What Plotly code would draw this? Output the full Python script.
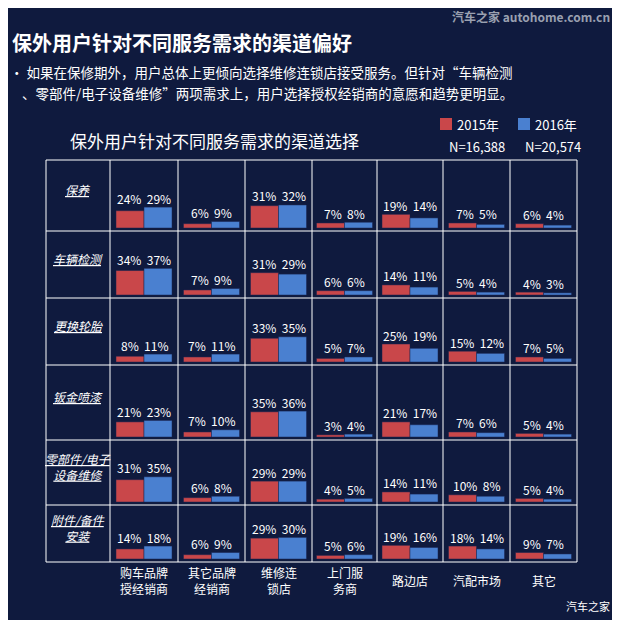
import plotly.graph_objects as go

rows = ["保养", "车辆检测", "更换轮胎", "钣金喷漆", "零部件/电子<br>设备维修", "附件/备件<br>安装"]
cols = ["购车品牌<br>授经销商", "其它品牌<br>经销商", "维修连<br>锁店", "上门服<br>务商", "路边店", "汽配市场", "其它"]
v2015 = [[24, 6, 31, 7, 19, 7, 6],
         [34, 7, 31, 6, 14, 5, 4],
         [8, 7, 33, 5, 25, 15, 7],
         [21, 7, 35, 3, 21, 7, 5],
         [31, 6, 29, 4, 14, 10, 5],
         [14, 6, 29, 5, 19, 18, 9]]
v2016 = [[29, 9, 32, 8, 14, 5, 4],
         [37, 9, 29, 6, 11, 4, 3],
         [11, 11, 35, 7, 19, 12, 5],
         [23, 10, 36, 4, 17, 6, 4],
         [35, 8, 29, 5, 11, 8, 4],
         [18, 9, 30, 6, 16, 14, 7]]

RED, BLUE = "#c9474a", "#4a80d0"
ybounds = [160, 231, 298, 365, 440, 505, 562]
xbounds = [46, 110, 178, 245, 312, 377, 443, 510, 577]
K = 0.72

fig = go.Figure()
ann = []
for series, color, side in [(v2015, RED, -1), (v2016, BLUE, 1)]:
    xs, bases, hs = [], [], []
    for r in range(len(rows)):
        bottom = ybounds[r + 1] - 3
        for c in range(len(cols)):
            cx = (xbounds[c + 1] + xbounds[c + 2]) / 2
            xs.append(cx + side * 14)
            bases.append(bottom)
            hs.append(-series[r][c] * K)
    fig.add_trace(go.Bar(x=xs, y=hs, base=bases, width=28, marker=dict(color=color, line=dict(color="#1a2450", width=0.5)), showlegend=False, hoverinfo="skip"))

for r in range(len(rows)):
    bottom = ybounds[r + 1] - 3
    for c in range(len(cols)):
        cx = (xbounds[c + 1] + xbounds[c + 2]) / 2
        top = bottom - max(v2015[r][c], v2016[r][c]) * K
        ann.append(dict(x=cx, y=top - 9, text=f"{v2015[r][c]}%  {v2016[r][c]}%", showarrow=False, font=dict(size=12, color="white")))
    ann.append(dict(x=(xbounds[0] + xbounds[1]) / 2, y=(ybounds[r] + ybounds[r + 1]) / 2 - 6,
                    text=f"<i><u>{rows[r]}</u></i>", showarrow=False, font=dict(size=12, color="white")))
for c in range(len(cols)):
    cx = (xbounds[c + 1] + xbounds[c + 2]) / 2
    ann.append(dict(x=cx, y=580, text=cols[c], showarrow=False, font=dict(size=12, color="white")))

shapes = []
for y in ybounds:
    shapes.append(dict(type="line", x0=xbounds[0], x1=xbounds[-1], y0=y, y1=y, line=dict(color="white", width=1)))
for x in xbounds:
    shapes.append(dict(type="line", x0=x, x1=x, y0=ybounds[0], y1=ybounds[-1], line=dict(color="white", width=1)))
shapes.append(dict(type="rect", x0=440, x1=452, y0=118, y1=130, fillcolor=RED, line=dict(width=0)))
shapes.append(dict(type="rect", x0=518, x1=530, y0=118, y1=130, fillcolor=BLUE, line=dict(width=0)))

def T(x, y, t, size, color="white", anchor="left"):
    ann.append(dict(x=x, y=y, text=t, showarrow=False, xanchor=anchor, font=dict(size=size, color=color)))

T(10, 42, "<b>保外用户针对不同服务需求的渠道偏好</b>", 20)
T(612, 16, "<b>汽车之家 autohome.com.cn</b>", 12, "#9aa0b0", "right")
T(8, 72, "• 如果在保修期外，用户总体上更倾向选择维修连锁店接受服务。但针对“车辆检测", 13.5)
T(20, 93, "、零部件/电子设备维修”两项需求上，用户选择授权经销商的意愿和趋势更明显。", 13.5)
T(68, 140, "保外用户针对不同服务需求的渠道选择", 17)
T(455, 124, "2015年", 13)
T(533, 124, "2016年", 13)
T(447, 146, "N=16,388", 13)
T(523, 146, "N=20,574", 13)
T(612, 606, "汽车之家", 11, "white", "right")

# page shows the figure offset by ~8px, so use a 612px figure mapped to 8..620
fig.update_layout(width=612, height=612, margin=dict(l=0, r=0, t=0, b=0),
                  paper_bgcolor="#0f1a3e", plot_bgcolor="#0f1a3e", barmode="overlay",
                  font=dict(family="Noto Sans CJK SC"),
                  xaxis=dict(range=[8, 620], visible=False, fixedrange=True),
                  yaxis=dict(range=[620, 8], visible=False, fixedrange=True),
                  shapes=shapes, annotations=ann)
fig.write_html("out.html")
